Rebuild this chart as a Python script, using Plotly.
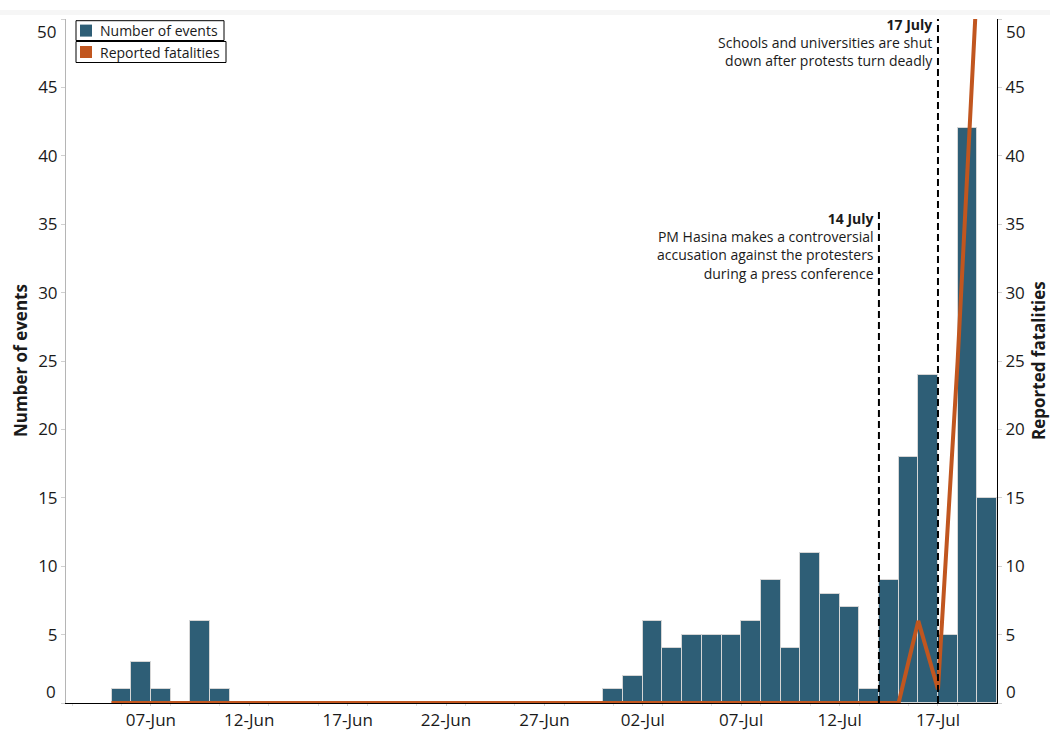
import pandas as pd
import plotly.graph_objects as go

# ---------------- data ----------------
dates = pd.date_range("2024-06-05", "2024-07-19", freq="D").strftime("%Y-%m-%d").tolist()

events = [1, 3, 1, 0, 6, 1,                      # 05-10 Jun
          0, 0, 0, 0, 0, 0, 0, 0, 0, 0,          # 11-20 Jun
          0, 0, 0, 0, 0, 0, 0, 0, 0,             # 21-29 Jun
          1,                                     # 30 Jun
          2, 6, 4, 5, 5, 5, 6, 9, 4, 11,         # 01-10 Jul
          8, 7, 1, 9, 18, 24, 5, 42, 15]         # 11-19 Jul

fatalities = [0, 0, 0, 0, 0, 0,                  # 05-10 Jun
              0, 0, 0, 0, 0, 0, 0, 0, 0, 0,      # 11-20 Jun
              0, 0, 0, 0, 0, 0, 0, 0, 0,         # 21-29 Jun
              0,                                 # 30 Jun
              0, 0, 0, 0, 0, 0, 0, 0, 0, 0,      # 01-10 Jul
              0, 0, 0, 0, 0, 6, 1, 25, 53]       # 11-19 Jul

y_ticks = [0, 5, 10, 15, 20, 25, 30, 35, 40, 45, 50]

series_names = ["Number of events", "Reported fatalities"]

event_dates = ["2024-07-14", "2024-07-17"]
event_heads = ["14 July", "17 July"]
event_lines = [["PM Hasina makes a controversial",
                "accusation against the protesters",
                "during a press conference"],
               ["Schools and universities are shut",
                "down after protests turn deadly"]]
event_tops = [36, 50.2]

# ---------------- style ----------------
BAR = "#2e5e76"
LINE = "#c1561f"
FONT = "Open Sans"
TXT = "#1a1a1a"
DAY_MS = 86400000

W, H = 1050, 731
ML, MR, MT, MB = 66, 53, 19, 28
PW, PH = W - ML - MR, H - MT - MB


def px_x(px):
    return (px - ML) / PW


def px_y(py):
    return 1 - (py - MT) / PH


fig = go.Figure()

fig.add_trace(go.Bar(
    x=dates, y=events, name=series_names[0],
    offset=0, width=DAY_MS,
    marker=dict(color=BAR, line=dict(color="#d6d6d6", width=1)),
    yaxis="y", showlegend=False,
))
fig.add_trace(go.Scatter(
    x=dates, y=fatalities, name=series_names[1],
    mode="lines", line=dict(color=LINE, width=4),
    showlegend=False, yaxis="y2",
))

shapes = []
annotations = []

# event marker lines and labels (label top in pixels)
label_top_px = [207, 13]
for d, top, ltop, head, lines in zip(event_dates, event_tops, label_top_px, event_heads, event_lines):
    shapes.append(dict(type="line", xref="x", yref="y", x0=d, x1=d, y0=0, y1=top,
                       line=dict(color="black", width=2, dash="7px,4px"), layer="above"))
    annotations.append(dict(
        x=d, y=px_y(ltop), xref="x", yref="paper", xanchor="right", yanchor="top",
        xshift=-3, showarrow=False, align="right",
        text="<b>" + head + "</b><br>" + "<br>".join(lines),
        font=dict(family=FONT, size=14, color=TXT),
    ))

# nudged end tick labels (0 and 50) on both axes
for val, shift in [(0, 12), (50, -12)]:
    annotations.append(dict(x=0, y=val, xref="paper", yref="y", xanchor="right",
                            xshift=-8, yshift=shift, showarrow=False, text=str(val),
                            font=dict(family=FONT, size=17, color=TXT)))
    annotations.append(dict(x=1, y=val, xref="paper", yref="y", xanchor="left",
                            xshift=7, yshift=shift, showarrow=False, text=str(val),
                            font=dict(family=FONT, size=17, color=TXT)))

# axis titles
annotations.append(dict(x=px_x(20), y=0.5, xref="paper", yref="paper", textangle=-90,
                        xanchor="center", yanchor="middle",
                        showarrow=False, text="<b>Number of events</b>",
                        font=dict(family=FONT, size=17, color=TXT)))
annotations.append(dict(x=px_x(1038), y=0.5, xref="paper", yref="paper", textangle=-90,
                        xanchor="center", yanchor="middle",
                        showarrow=False, text="<b>Reported fatalities</b>",
                        font=dict(family=FONT, size=17, color=TXT)))

# legend: two separately boxed entries
legend_colors = [BAR, LINE]
legend_boxes = [(76, 224, 20.7, 40.5), (76, 226, 41.5, 62.5)]
for name, col, (x0, x1, y0, y1) in zip(series_names, legend_colors, legend_boxes):
    cy = (y0 + y1) / 2
    shapes.append(dict(type="rect", xref="paper", yref="paper",
                       x0=px_x(x0), x1=px_x(x1), y0=px_y(y1), y1=px_y(y0),
                       line=dict(color="black", width=1), fillcolor="white", layer="above"))
    shapes.append(dict(type="rect", xref="paper", yref="paper",
                       x0=px_x(80), x1=px_x(92), y0=px_y(cy + 6), y1=px_y(cy - 6),
                       line=dict(width=0), fillcolor=col, layer="above"))
    annotations.append(dict(x=px_x(98), y=px_y(cy), xref="paper", yref="paper",
                            xanchor="left", yanchor="middle", showarrow=False, text=name,
                            font=dict(family=FONT, size=14, color=TXT)))

# faint strip at the very top
shapes.append(dict(type="rect", xref="paper", yref="paper", x0=px_x(-5), x1=px_x(1060),
                   y0=px_y(15), y1=px_y(10), fillcolor="#f6f6f6", line=dict(width=0),
                   layer="below"))

tick_text = ["" if v in (0, 50) else str(v) for v in y_ticks]

fig.update_layout(
    width=W, height=H,
    margin=dict(l=ML, r=MR, t=MT, b=MB, autoexpand=False),
    paper_bgcolor="white", plot_bgcolor="white",
    font=dict(family=FONT, color=TXT),
    bargap=0,
    showlegend=False,
    xaxis=dict(
        type="date", range=["2024-06-02 16:30", "2024-07-20 00:00"],
        tick0="2024-06-07", dtick=5 * DAY_MS, tickformat="%d-%b",
        showgrid=False, zeroline=False, automargin=False,
        showline=True, linecolor="black", linewidth=1,
        ticks="outside", ticklen=2, tickcolor="#d0d0d0",
        minor=dict(dtick=2.5 * DAY_MS, ticks="outside", ticklen=2, tickcolor="#e0e0e0"),
        tickfont=dict(family=FONT, size=17, color=TXT),
    ),
    yaxis=dict(
        range=[0, 50], tickvals=y_ticks, ticktext=tick_text,
        showgrid=False, zeroline=False, automargin=False,
        showline=True, linecolor="#b5b5b5", linewidth=1,
        ticks="outside", ticklen=4, tickcolor="#d0d0d0",
        tickfont=dict(family=FONT, size=17, color=TXT),
    ),
    yaxis2=dict(
        range=[0, 50], tickvals=y_ticks, ticktext=tick_text,
        overlaying="y", side="right", automargin=False,
        showgrid=False, zeroline=False,
        showline=True, linecolor="black", linewidth=1,
        ticks="outside", ticklen=4, tickcolor="#d0d0d0",
        tickfont=dict(family=FONT, size=17, color=TXT),
    ),
    shapes=shapes,
    annotations=annotations,
)

fig.write_html("out.html", config={"displayModeBar": False},
               post_script="document.body.style.margin='0';")
